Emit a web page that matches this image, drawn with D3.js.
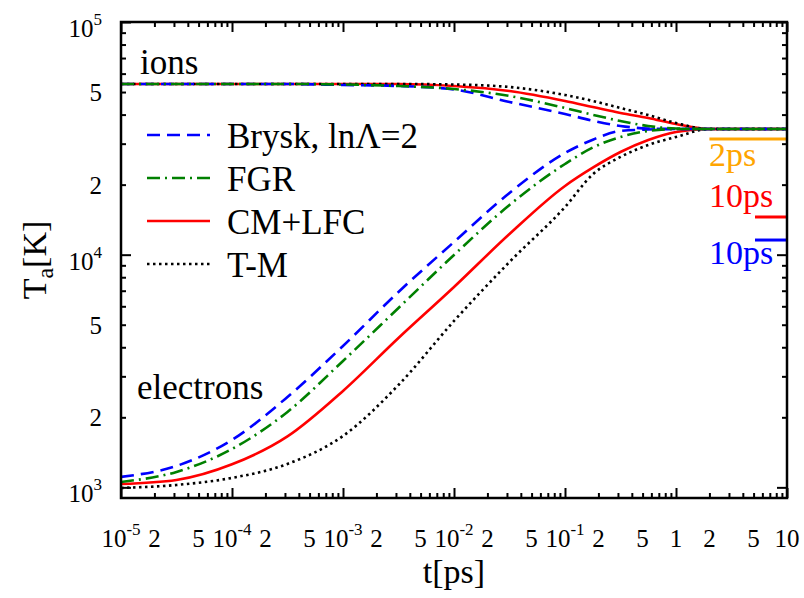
<!DOCTYPE html>
<html><head><meta charset="utf-8">
<script src="https://cdn.jsdelivr.net/npm/d3@7"></script>
<style>
body{margin:0;background:#fff}
</style>
</head><body>
<svg id="c" width="804" height="598" font-family="'Liberation Serif','Times New Roman',Times,serif"></svg>
<script>
// ---- data (time in ps, temperature in K) ----
const timePs = [1e-5, 3.16e-5, 1e-4, 3.16e-4, 1e-3, 3.16e-3, 1e-2, 3.16e-2, 0.1, 0.178, 0.316, 0.562, 1, 2, 10];

const bryskElectrons = [1109, 1236, 1599, 2446, 4053, 6915, 11340, 18420, 27350, 31200, 34010, 34500, 34670, 34670, 34670];
const fgrElectrons   = [1055, 1165, 1462, 2109, 3494, 5902, 9970, 16350, 24530, 28860, 32050, 34010, 34670, 34670, 34670];
const cmlfcElectrons = [1034, 1076, 1256, 1655, 2596, 4385, 7262, 12270, 19740, 23650, 27620, 31110, 33670, 34670, 34670];
const tmElectrons    = [994, 1024, 1098, 1261, 1663, 2754, 5188, 9303, 16030, 22150, 26300, 29600, 32050, 34670, 34670];

const bryskIons = [54150, 54150, 54150, 54150, 53620, 53090, 51290, 45320, 40240, 37660, 35730, 34850, 34670, 34670, 34670];
const fgrIons   = [54150, 54150, 54150, 54150, 53870, 53090, 51530, 48080, 42700, 39920, 37550, 35730, 34850, 34670, 34670];
const cmlfcIons = [54150, 54150, 54150, 54150, 54150, 54150, 53090, 50520, 45770, 43120, 40640, 38680, 36450, 34670, 34670];
const tmIons    = [54150, 54150, 54150, 54150, 54150, 54150, 53870, 52560, 48570, 45770, 42700, 39840, 36810, 34670, 34670];

const seriesNames  = ["Brysk, ln\u039B=2", "FGR", "CM+LFC", "T-M"];
const seriesColors = ["#0000ff", "#008000", "#ff0000", "#000000"];
const seriesDashes = ["13,7", "13,5,2,5", null, "2.5,3.5"];

const markerLabels = ["2ps", "10ps", "10ps"];
const markerColors = ["#ffa500", "#ff0000", "#0000ff"];
const markerStart  = [2, 5.15, 5.15];
const markerEnd    = [10, 10, 10];
const markerTemp   = [31400, 14520, 11560];

const xTickValues = [1e-5,2e-5,5e-5,1e-4,2e-4,5e-4,1e-3,2e-3,5e-3,1e-2,2e-2,5e-2,1e-1,2e-1,5e-1,1,2,5,10];
const xTickLabels = ["10^-5","2","5","10^-4","2","5","10^-3","2","5","10^-2","2","5","10^-1","2","5","1","2","5","10"];
const yTickValues = [1e3,2e3,5e3,1e4,2e4,5e4,1e5];
const yTickLabels = ["10^3","2","5","10^4","2","5","10^5"];

// ---- chart ----
const svg = d3.select("#c");
const L = 121, R = 787, T = 22, B = 498;
const x = d3.scaleLog().domain([1e-5, 10]).range([L, R]);
const y = d3.scaleLog().domain([900, 1e5]).range([B, T]);

const isDecade = v => Math.abs(Math.log10(v) - Math.round(Math.log10(v))) < 1e-9;
const allX = x.ticks();
const majorX = allX.filter(isDecade);
const minorX = allX.filter(v => !isDecade(v));
const allY = y.ticks().filter(v => v >= 1000);
const majorY = allY.filter(isDecade);
const minorY = allY.filter(v => !isDecade(v));

function axisG(axis, tx, ty) {
  const g = svg.append("g").attr("transform", `translate(${tx},${ty})`).call(axis);
  g.select(".domain").remove();
  g.selectAll("line").attr("stroke", "#000").attr("stroke-width", 2);
  g.selectAll("text").remove();
}
[[majorX, 10], [minorX, 5]].forEach(([vals, s]) => {
  axisG(d3.axisBottom(x).tickValues(vals).tickSize(-s).tickFormat(""), 0, B);
  axisG(d3.axisTop(x).tickValues(vals).tickSize(-s).tickFormat(""), 0, T);
});
[[majorY, 10], [minorY, 5]].forEach(([vals, s]) => {
  axisG(d3.axisLeft(y).tickValues(vals).tickSize(-s).tickFormat(""), L, 0);
  axisG(d3.axisRight(y).tickValues(vals).tickSize(-s).tickFormat(""), R, 0);
});

// tick labels
function addLabel(g, label, px, py, anchor) {
  const parts = label.split("^");
  const t = g.append("text").attr("x", px).attr("y", py).attr("text-anchor", anchor).style("font-size", "25px");
  t.append("tspan").text(parts[0]);
  if (parts.length > 1) {
    t.append("tspan").attr("dy", -12).style("font-size", "17px").text(parts[1]);
  }
}
const lab = svg.append("g");
xTickValues.forEach((v, i) => addLabel(lab, xTickLabels[i], x(v), 547, "middle"));
yTickValues.forEach((v, i) => {
  const pow = yTickLabels[i].includes("^");
  addLabel(lab, yTickLabels[i], 102, y(v) + (pow ? 15 : 9), "end");
});

// axis titles
svg.append("text").attr("x", 454).attr("y", 583).attr("text-anchor", "middle").style("font-size", "34px").text("t[ps]");
const yt = svg.append("text").attr("transform", "translate(46,260) rotate(-90)").attr("text-anchor", "middle").style("font-size", "34px");
yt.append("tspan").text("T");
yt.append("tspan").attr("dy", 7).style("font-size", "24px").text("a");
yt.append("tspan").attr("dy", -7).text("[K]");

// curves
const line = d3.line().x(d => x(d[0])).y(d => y(d[1])).curve(d3.curveMonotoneX);
const electrons = [bryskElectrons, fgrElectrons, cmlfcElectrons, tmElectrons];
const ions = [bryskIons, fgrIons, cmlfcIons, tmIons];
const order = [2, 3, 0, 1];
svg.append("clipPath").attr("id", "clp").append("rect").attr("x", L).attr("y", T).attr("width", R - L).attr("height", B - T);
const curves = svg.append("g").attr("clip-path", "url(#clp)");
order.forEach(i => {
  [electrons[i], ions[i]].forEach(vals => {
    curves.append("path")
      .attr("d", line(timePs.map((t, k) => [t, vals[k]])))
      .attr("fill", "none")
      .attr("stroke", seriesColors[i])
      .attr("stroke-width", 2.6)
      .attr("stroke-dasharray", seriesDashes[i])
      .attr("stroke-linejoin", "round");
  });
});

// right-side markers
markerLabels.forEach((m, i) => {
  svg.append("line")
    .attr("x1", x(markerStart[i])).attr("x2", x(markerEnd[i]))
    .attr("y1", y(markerTemp[i])).attr("y2", y(markerTemp[i]))
    .attr("stroke", markerColors[i]).attr("stroke-width", 3);
});
const markerTextY = [166, 207, 264];
markerLabels.forEach((m, i) => {
  svg.append("text").attr("x", 709).attr("y", markerTextY[i]).style("font-size", "34px").style("fill", markerColors[i]).text(m);
});

// frame
svg.append("rect").attr("x", L).attr("y", T).attr("width", R - L).attr("height", B - T)
  .attr("fill", "none").attr("stroke", "#000").attr("stroke-width", 2.5);

// annotations
svg.append("text").attr("x", 140).attr("y", 74).style("font-size", "35px").text("ions");
svg.append("text").attr("x", 137).attr("y", 399).style("font-size", "35px").text("electrons");

// legend
const legY = [135, 178, 221, 264];
seriesNames.forEach((n, i) => {
  svg.append("line").attr("x1", 147).attr("x2", 210).attr("y1", legY[i]).attr("y2", legY[i])
    .attr("stroke", seriesColors[i]).attr("stroke-width", 2.6).attr("stroke-dasharray", seriesDashes[i]);
  svg.append("text").attr("x", 227).attr("y", legY[i] + 13).style("font-size", "35px").text(n);
});
</script>
</body></html>
